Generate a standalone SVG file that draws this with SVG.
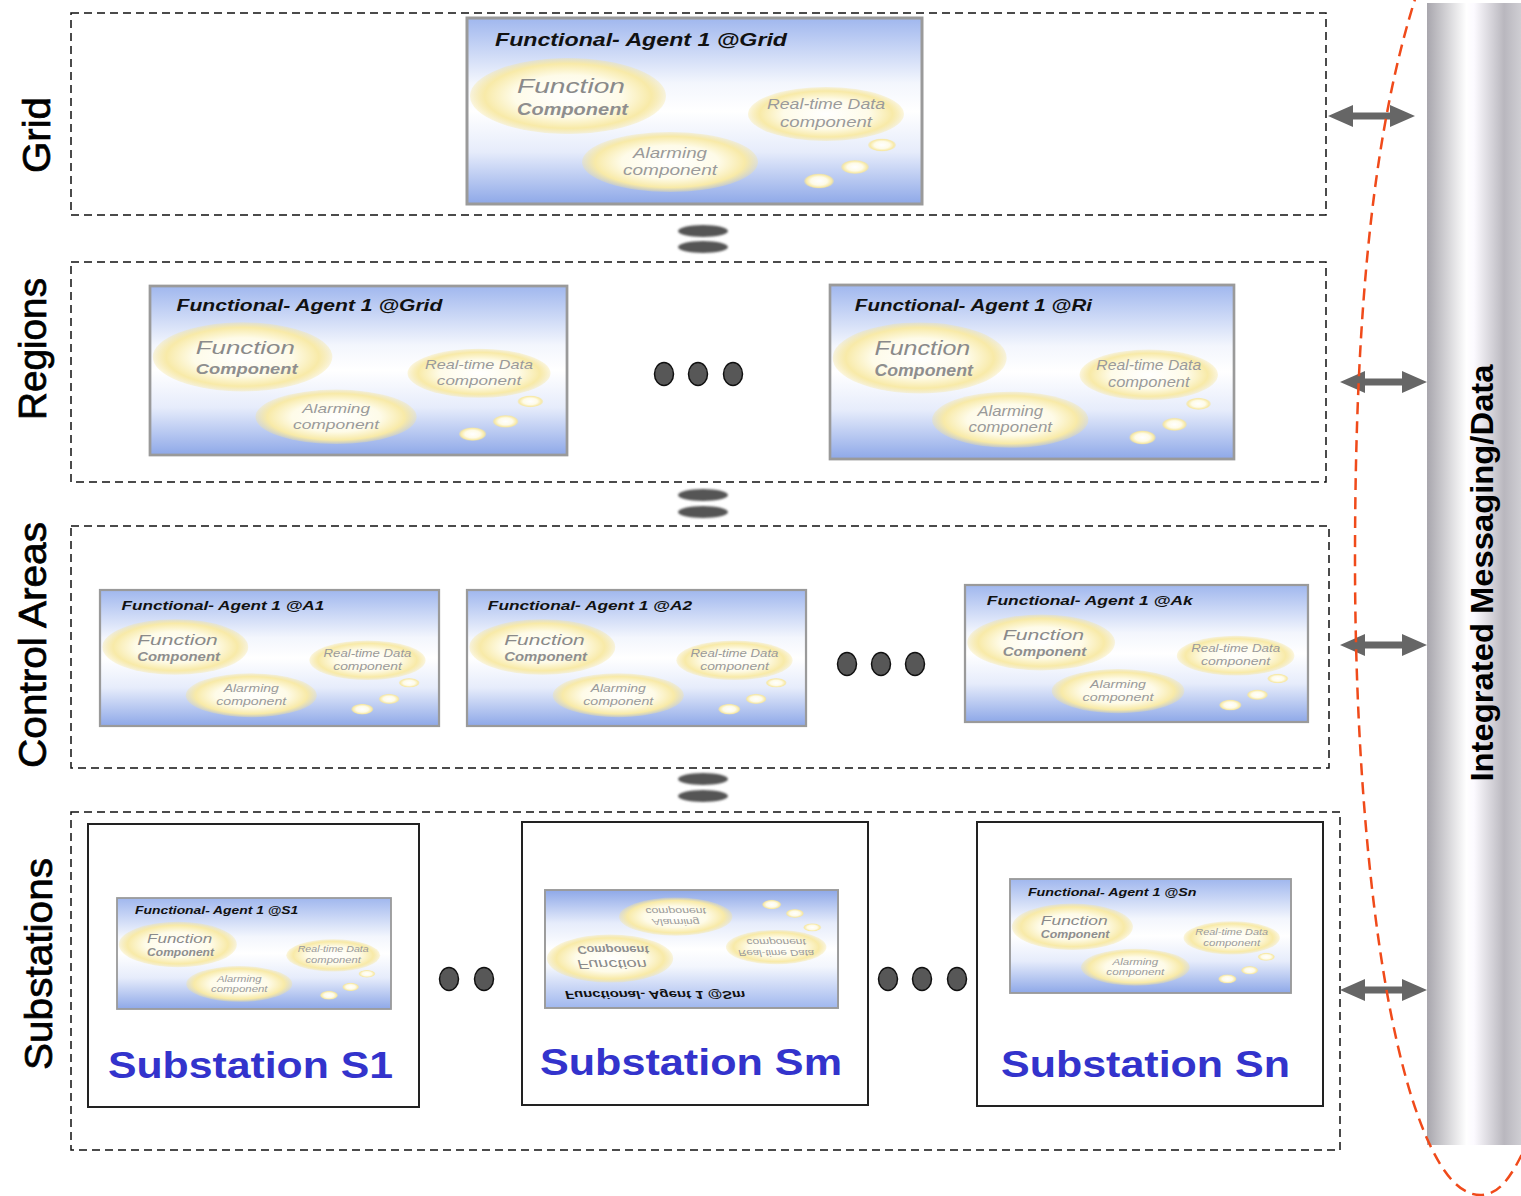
<svg xmlns="http://www.w3.org/2000/svg" xmlns:xlink="http://www.w3.org/1999/xlink" width="1521" height="1196" viewBox="0 0 1521 1196">
  <style>
    .layer { fill: none; stroke: #111; stroke-width: 1.5; stroke-dasharray: 8 5; }
    .layerLabel { font-family: "Liberation Sans", Arial, sans-serif; font-size: 38px; fill: #000; stroke: #000; stroke-width: 0.7; text-anchor: middle; }
    .title { font-family: "Liberation Sans", Arial, sans-serif; font-size: 18px; font-weight: bold; font-style: italic; fill: #111; }
    .fnBig { font-family: "Liberation Sans", Arial, sans-serif; font-size: 21px; font-style: italic; fill: #8a8a8a; }
    .fnSub { font-family: "Liberation Sans", Arial, sans-serif; font-size: 17px; font-weight: bold; font-style: italic; fill: #8e8e8e; }
    .small { font-family: "Liberation Sans", Arial, sans-serif; font-size: 15px; font-style: italic; fill: #9a9a9a; text-anchor: middle; }
    .subBox { fill: #fff; stroke: #222; stroke-width: 2; }
    .subLabel { font-family: "Liberation Sans", Arial, sans-serif; font-size: 36px; font-weight: bold; fill: #3333cc; }
    .dot { fill: #575757; stroke: #111; stroke-width: 1.5; }
    .link { fill: #555; filter: url(#soft); }
    .arrow { fill: #666; }
    .busLabel { font-family: "Liberation Sans", Arial, sans-serif; font-size: 32px; font-weight: bold; fill: #000; text-anchor: middle; }
  </style>
  <defs>
    <linearGradient id="agentBg" x1="0" y1="0" x2="0" y2="1">
      <stop offset="0" stop-color="#a0b7ee"/>
      <stop offset="0.35" stop-color="#f3f6fd"/>
      <stop offset="0.5" stop-color="#ffffff"/>
      <stop offset="0.72" stop-color="#e6ecfb"/>
      <stop offset="1" stop-color="#8ea8e8"/>
    </linearGradient>
    <radialGradient id="blob" cx="0.5" cy="0.5" r="0.5">
      <stop offset="0" stop-color="#ffffff"/>
      <stop offset="0.55" stop-color="#fefbe8"/>
      <stop offset="0.85" stop-color="#f8eaa8"/>
      <stop offset="1" stop-color="#f5e394" stop-opacity="0.3"/>
    </radialGradient>
    <linearGradient id="busBg" x1="0" y1="0" x2="1" y2="0">
      <stop offset="0" stop-color="#a8a6ad"/>
      <stop offset="0.42" stop-color="#ffffff"/>
      <stop offset="0.5" stop-color="#fcfaff"/>
      <stop offset="0.82" stop-color="#b9b7be"/>
      <stop offset="1" stop-color="#cfced3"/>
    </linearGradient>
    <filter id="soft" x="-20%" y="-50%" width="140%" height="200%">
      <feGaussianBlur stdDeviation="1.2"/>
    </filter>
    <!-- generic functional agent card, 455 x 186 units -->
    <g id="agentBody">
      <rect x="0" y="0" width="455" height="186" fill="url(#agentBg)" stroke="#9a9a9a" stroke-width="3"/>
      <ellipse cx="101" cy="78" rx="98" ry="38" fill="url(#blob)"/>
      <ellipse cx="359" cy="96" rx="78" ry="27" fill="url(#blob)"/>
      <ellipse cx="203" cy="144" rx="88" ry="30" fill="url(#blob)"/>
      <ellipse cx="415" cy="127" rx="14" ry="6.5" fill="url(#blob)"/>
      <ellipse cx="388" cy="149" rx="14" ry="7" fill="url(#blob)"/>
      <ellipse cx="352" cy="163" rx="15" ry="7.5" fill="url(#blob)"/>
      <text class="fnBig" x="50" y="75" textLength="108" lengthAdjust="spacingAndGlyphs">Function</text>
      <text class="fnSub" x="50" y="97" textLength="111" lengthAdjust="spacingAndGlyphs">Component</text>
      <text class="small" x="359" y="91" textLength="118" lengthAdjust="spacingAndGlyphs">Real-time Data</text>
      <text class="small" x="359" y="109" textLength="92" lengthAdjust="spacingAndGlyphs">component</text>
      <text class="small" x="203" y="140" textLength="74" lengthAdjust="spacingAndGlyphs">Alarming</text>
      <text class="small" x="203" y="157" textLength="94" lengthAdjust="spacingAndGlyphs">component</text>
    </g>
    <path id="dblArrow" d="M0,0 L25,-11 L25,-3.5 L62,-3.5 L62,-11 L87,0 L62,11 L62,3.5 L25,3.5 L25,11 Z"/>
  </defs>

  <rect width="1521" height="1196" fill="#fff"/>

  <!-- messaging bus -->
  <g id="bus">
    <rect x="1427" y="3" width="94" height="1142" fill="url(#busBg)"/>
    <text class="busLabel" transform="translate(1493,573) rotate(-90)" textLength="417" lengthAdjust="spacingAndGlyphs">Integrated Messaging/Data</text>
  </g>

  <!-- layer frames -->
  <g id="layer-grid">
    <rect class="layer" x="71" y="13" width="1255" height="202"/>
    <text class="layerLabel" transform="translate(50,135) rotate(-90)" textLength="76" lengthAdjust="spacingAndGlyphs">Grid</text>
  </g>
  <g id="layer-regions">
    <rect class="layer" x="71" y="262" width="1255" height="220"/>
    <text class="layerLabel" transform="translate(46,349) rotate(-90)" textLength="142" lengthAdjust="spacingAndGlyphs">Regions</text>
  </g>
  <g id="layer-control">
    <rect class="layer" x="71" y="526" width="1258" height="242"/>
    <text class="layerLabel" transform="translate(46,645) rotate(-90)" textLength="246" lengthAdjust="spacingAndGlyphs">Control Areas</text>
  </g>
  <g id="layer-substations">
    <rect class="layer" x="71" y="812" width="1269" height="338"/>
    <text class="layerLabel" transform="translate(52,964) rotate(-90)" textLength="212" lengthAdjust="spacingAndGlyphs">Substations</text>
  </g>

  <!-- agents -->
  <g id="agent-grid" transform="translate(467,18)">
    <use xlink:href="#agentBody" href="#agentBody"/>
    <text class="title" x="28" y="28" textLength="292" lengthAdjust="spacingAndGlyphs">Functional- Agent 1 @Grid</text>
  </g>
  <g id="agent-region-1" transform="translate(150,286) scale(0.9165,0.9086)">
    <use xlink:href="#agentBody" href="#agentBody"/>
    <text class="title" x="29" y="28" textLength="290" lengthAdjust="spacingAndGlyphs">Functional- Agent 1 @Grid</text>
  </g>
  <g id="agent-region-i" transform="translate(830,285) scale(0.8879,0.9355)">
    <use xlink:href="#agentBody" href="#agentBody"/>
    <text class="title" x="28" y="28" textLength="267" lengthAdjust="spacingAndGlyphs">Functional- Agent 1 @Ri</text>
  </g>
  <g id="agent-area-1" transform="translate(100,590) scale(0.7451,0.7312)">
    <use xlink:href="#agentBody" href="#agentBody"/>
    <text class="title" x="29" y="27" textLength="272" lengthAdjust="spacingAndGlyphs">Functional- Agent 1 @A1</text>
  </g>
  <g id="agent-area-2" transform="translate(467,590) scale(0.7451,0.7312)">
    <use xlink:href="#agentBody" href="#agentBody"/>
    <text class="title" x="28" y="27" textLength="274" lengthAdjust="spacingAndGlyphs">Functional- Agent 1 @A2</text>
  </g>
  <g id="agent-area-k" transform="translate(965,585) scale(0.7538,0.7366)">
    <use xlink:href="#agentBody" href="#agentBody"/>
    <text class="title" x="29" y="27" textLength="273" lengthAdjust="spacingAndGlyphs">Functional- Agent 1 @Ak</text>
  </g>

  <!-- substations -->
  <g id="substation-s1">
    <rect class="subBox" x="88" y="824" width="331" height="283"/>
    <g transform="translate(117,898) scale(0.6022,0.5968)">
      <use xlink:href="#agentBody" href="#agentBody"/>
      <text class="title" x="30" y="27" textLength="271" lengthAdjust="spacingAndGlyphs">Functional- Agent 1 @S1</text>
    </g>
    <text class="subLabel" x="108" y="1078" textLength="285" lengthAdjust="spacingAndGlyphs">Substation S1</text>
  </g>
  <g id="substation-sm">
    <rect class="subBox" x="522" y="822" width="346" height="283"/>
    <g transform="translate(545,1008) scale(0.6440,-0.6344)">
      <use xlink:href="#agentBody" href="#agentBody"/>
      <text class="title" x="31" y="27" textLength="280" lengthAdjust="spacingAndGlyphs">Functional- Agent 1 @Sm</text>
    </g>
    <text class="subLabel" x="540" y="1075" textLength="302" lengthAdjust="spacingAndGlyphs">Substation Sm</text>
  </g>
  <g id="substation-sn">
    <rect class="subBox" x="977" y="822" width="346" height="284"/>
    <g transform="translate(1010,879) scale(0.6176,0.6129)">
      <use xlink:href="#agentBody" href="#agentBody"/>
      <text class="title" x="29" y="27" textLength="273" lengthAdjust="spacingAndGlyphs">Functional- Agent 1 @Sn</text>
    </g>
    <text class="subLabel" x="1001" y="1077" textLength="289" lengthAdjust="spacingAndGlyphs">Substation Sn</text>
  </g>

  <!-- ellipsis dots -->
  <g id="dots">
    <ellipse class="dot" cx="664" cy="374" rx="9.5" ry="11.5"/>
    <ellipse class="dot" cx="698" cy="374" rx="9.5" ry="11.5"/>
    <ellipse class="dot" cx="733" cy="374" rx="9.5" ry="11.5"/>
    <ellipse class="dot" cx="847" cy="664" rx="9.5" ry="11.5"/>
    <ellipse class="dot" cx="881" cy="664" rx="9.5" ry="11.5"/>
    <ellipse class="dot" cx="915" cy="664" rx="9.5" ry="11.5"/>
    <ellipse class="dot" cx="449" cy="979" rx="9.5" ry="11.5"/>
    <ellipse class="dot" cx="484" cy="979" rx="9.5" ry="11.5"/>
    <ellipse class="dot" cx="888" cy="979" rx="9.5" ry="11.5"/>
    <ellipse class="dot" cx="922" cy="979" rx="9.5" ry="11.5"/>
    <ellipse class="dot" cx="957" cy="979" rx="9.5" ry="11.5"/>
  </g>

  <!-- connectors -->
  <g id="connectors">
    <ellipse class="link" cx="703" cy="231" rx="25" ry="6"/>
    <ellipse class="link" cx="703" cy="247" rx="25" ry="6"/>
    <ellipse class="link" cx="703" cy="495" rx="25" ry="6"/>
    <ellipse class="link" cx="703" cy="512" rx="25" ry="6"/>
    <ellipse class="link" cx="703" cy="779" rx="25" ry="6"/>
    <ellipse class="link" cx="703" cy="796" rx="25" ry="6"/>
    <use class="arrow" xlink:href="#dblArrow" href="#dblArrow" transform="translate(1328,116)"/>
    <use class="arrow" xlink:href="#dblArrow" href="#dblArrow" transform="translate(1340,382)"/>
    <use class="arrow" xlink:href="#dblArrow" href="#dblArrow" transform="translate(1340,645)"/>
    <use class="arrow" xlink:href="#dblArrow" href="#dblArrow" transform="translate(1340,990)"/>
  </g>

  <!-- integration boundary -->
  <path id="boundary" d="M1418,-10 C1375,120 1355,300 1355,560 C1355,800 1380,1040 1430,1145 C1445,1177 1462,1196 1482,1195 C1500,1194 1512,1175 1524,1150" fill="none" stroke="#f04a1a" stroke-width="2.5" stroke-dasharray="12 7"/>
</svg>
